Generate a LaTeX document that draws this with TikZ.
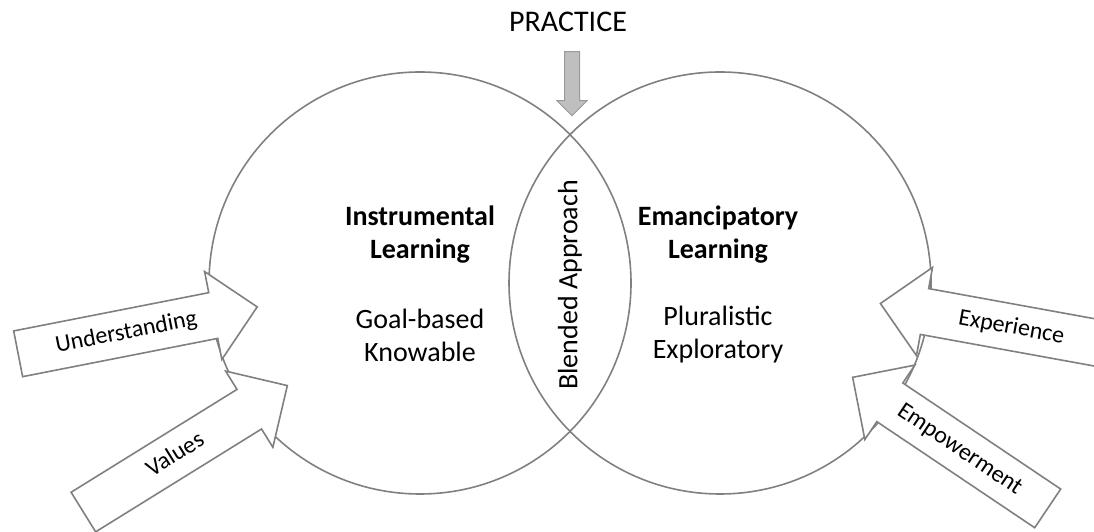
\documentclass[tikz,border=0pt]{standalone}
\usepackage{fontspec}
\setmainfont{Carlito}
\usetikzlibrary{shapes.arrows}

\begin{document}
\begin{tikzpicture}[x=1pt, y=1pt, node distance={100pt},
  ring/.style={draw=black!50, line width=1.6pt, circle, minimum size=422pt, inner sep=0pt},
  block arrow/.style={single arrow, draw=black!50, line width=1.6pt, fill=white,
    single arrow head extend=21.5pt, inner ysep=11pt, inner xsep=4pt,
    text height=18pt, text depth=5pt, minimum height=#1,
    font=\fontsize{24}{28}\selectfont},
  heading/.style={align=center, font=\fontsize{28}{33}\selectfont\bfseries},
  body text/.style={align=center, font=\fontsize{28}{33}\selectfont}]
  \useasboundingbox (0,0) rectangle (1094,532);
  \clip (0,0) rectangle (1094,532);

  % the two fields
  \node[ring] (instr) at (420,249) {};
  \node[ring] (eman) at (720,249) {};

  \node[heading] (instrtext) at (420,297) {Instrumental\\Learning};
  \node[body text] (goal) [below of=instrtext] {Goal-based\\Knowable};
  \node[heading] (emantext) at (718,297) {Emancipatory\\Learning};
  \node[body text] (plural) [below of=emantext] {Pluralistic\\Exploratory};
  \node[body text, rotate=90] (blend) at (570,247) {Blended Approach};

  % practice on top
  \node[font=\fontsize{30}{36}\selectfont, anchor=base] (practice) at (568,500) {PRACTICE};
  \node[single arrow, draw=black!40, fill=black!25, line width=1pt, rotate=-90,
    inner sep=7pt, single arrow head extend=7.5pt, minimum height=64pt] (down) at (572,452) {};

  % inputs
  \node[block arrow=243.6pt, rotate=11.1, anchor=tip] (und) at (258.3,225.3) {Understanding};
  \node[block arrow=240pt, rotate=31.8, anchor=tip] (val) at (288.3,147) {Values};
  \node[block arrow=235pt, rotate=-33.9, shape border rotate=180, anchor=tip] (empow) at (851.7,155.3) {Empowerment};
  \node[block arrow=243pt, rotate=-10.3, shape border rotate=180, anchor=tip] (exper) at (879.3,228.7) {Experience};
\end{tikzpicture}
\end{document}
